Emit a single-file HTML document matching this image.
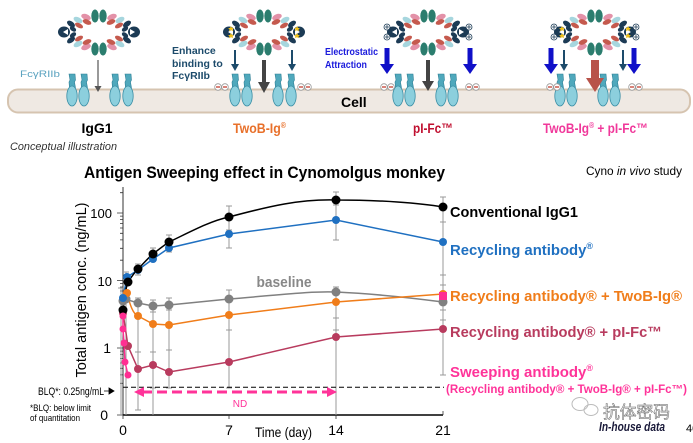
<!DOCTYPE html>
<html><head><meta charset="utf-8"><style>
html,body{margin:0;padding:0;background:#fff;}
svg{display:block;}
text{font-family:"Liberation Sans",Arial,sans-serif;}
</style></head><body>
<svg width="693" height="443" viewBox="0 0 693 443" xmlns="http://www.w3.org/2000/svg">
<defs>
<g id="q">
 <ellipse cx="-13" cy="-15" rx="5" ry="2.8" fill="#e391a8" transform="rotate(22 -13 -15)"/>
 <ellipse cx="-21" cy="-12" rx="4.8" ry="2.7" fill="#a6d6de" transform="rotate(28 -21 -12)"/>
 <ellipse cx="-28" cy="-8" rx="4.5" ry="2.6" fill="#1c3b55" transform="rotate(35 -28 -8)"/>
 <ellipse cx="-12" cy="-10" rx="4.6" ry="2.4" fill="#c55a4e" transform="rotate(22 -12 -10)"/>
 <ellipse cx="-20" cy="-6.5" rx="4.4" ry="2.3" fill="#c55a4e" transform="rotate(28 -20 -6.5)"/>
 <ellipse cx="-26" cy="-3" rx="3.5" ry="2.2" fill="#1c3b55" transform="rotate(35 -26 -3)"/>
</g>
<g id="ab">
 <use href="#q"/>
 <use href="#q" transform="scale(-1,1)"/>
 <use href="#q" transform="scale(1,-1)"/>
 <use href="#q" transform="scale(-1,-1)"/>
 <ellipse cx="-4" cy="-16" rx="3.7" ry="6.5" fill="#2b7d6e"/>
 <ellipse cx="4" cy="-16" rx="3.7" ry="6.5" fill="#2b7d6e"/>
 <ellipse cx="-4" cy="17" rx="3.7" ry="6.5" fill="#2b7d6e"/>
 <ellipse cx="4" cy="17" rx="3.7" ry="6.5" fill="#2b7d6e"/>
 <ellipse cx="-35" cy="0" rx="6" ry="5.5" fill="#1c3b55"/>
 <path d="M-36,0 L-31,-3 L-31,3 Z" fill="#fff"/>
 <ellipse cx="35" cy="0" rx="6" ry="5.5" fill="#1c3b55"/>
 <path d="M36,0 L31,-3 L31,3 Z" fill="#fff"/>
</g>
<g id="stars">
 <path d="M-33,-6 l1,2 2,0 -1.5,1.3 .6,2 -2.1,-1.2 -2.1,1.2 .6,-2 -1.5,-1.3 2,0z" fill="#f2c21b"/>
 <path d="M-33,1 l1,2 2,0 -1.5,1.3 .6,2 -2.1,-1.2 -2.1,1.2 .6,-2 -1.5,-1.3 2,0z" fill="#f2c21b"/>
 <path d="M33,-6 l1,2 2,0 -1.5,1.3 .6,2 -2.1,-1.2 -2.1,1.2 .6,-2 -1.5,-1.3 2,0z" fill="#f2c21b"/>
 <path d="M33,1 l1,2 2,0 -1.5,1.3 .6,2 -2.1,-1.2 -2.1,1.2 .6,-2 -1.5,-1.3 2,0z" fill="#f2c21b"/>
</g>
<g id="plus">
 <circle cx="-41" cy="-5" r="3" fill="#fff" stroke="#1c3b55" stroke-width="0.8"/>
 <circle cx="-41" cy="5" r="3" fill="#fff" stroke="#1c3b55" stroke-width="0.8"/>
 <circle cx="41" cy="-5" r="3" fill="#fff" stroke="#1c3b55" stroke-width="0.8"/>
 <circle cx="41" cy="5" r="3" fill="#fff" stroke="#1c3b55" stroke-width="0.8"/>
 <path d="M-43,-5h4M-41,-7v4M-43,5h4M-41,3v4M39,-5h4M41,-7v4M39,5h4M41,3v4" stroke="#1c3b55" stroke-width="0.8"/>
</g>
<g id="rec">
 <path d="M-3,74 L3,74 L3.5,80 L2.5,82 L3.5,88 L-2.5,88 L-3,82 L-2,80 Z" fill="#4fa8bc" stroke="#2f7f95" stroke-width="0.6"/>
 <ellipse cx="0" cy="96" rx="5.2" ry="10" fill="#8ccfdd" stroke="#3a8ea5" stroke-width="0.8"/>
</g>
<g id="minus">
 <circle cx="0" cy="0" r="3.3" fill="#fff" stroke="#999" stroke-width="0.8"/>
 <circle cx="7" cy="0" r="3.3" fill="#fff" stroke="#999" stroke-width="0.8"/>
 <path d="M-2,0h4M5,0h4" stroke="#c0392b" stroke-width="1.2"/>
</g>
</defs>

<!-- membrane -->
<rect x="8" y="89.5" width="682" height="23" rx="10" fill="#efe9e3" stroke="#d6c4b0" stroke-width="2"/>
<text x="341" y="107" font-size="14" font-weight="bold" fill="#000">Cell</text>

<!-- receptors -->
<use href="#rec" x="72"/><use href="#rec" x="84"/><use href="#rec" x="115"/><use href="#rec" x="128"/>
<use href="#rec" x="235"/><use href="#rec" x="247"/><use href="#rec" x="278"/><use href="#rec" x="291"/>
<use href="#rec" x="398"/><use href="#rec" x="410"/><use href="#rec" x="441"/><use href="#rec" x="453"/>
<use href="#rec" x="560"/><use href="#rec" x="572"/><use href="#rec" x="603"/><use href="#rec" x="615"/>

<!-- minus charges -->
<use href="#minus" x="218" y="87"/><use href="#minus" x="301" y="87"/>
<use href="#minus" x="384" y="87"/><use href="#minus" x="469" y="87"/>
<use href="#minus" x="550" y="87"/><use href="#minus" x="632" y="87"/>

<!-- antibodies -->
<use href="#ab" x="99" y="32"/>
<use href="#ab" x="264" y="32"/><use href="#stars" x="264" y="32"/>
<use href="#ab" x="428" y="32"/><use href="#plus" x="428" y="32"/>
<use href="#ab" x="595" y="32"/><use href="#stars" x="595" y="32"/><use href="#plus" x="595" y="32"/>

<!-- arrows -->
<line x1="98" y1="60" x2="98" y2="86" stroke="#555" stroke-width="1.2"/>
<path d="M94.5,86 L101.5,86 L98,92 Z" fill="#555"/>

<rect x="262" y="60" width="4" height="22" fill="#444"/>
<path d="M258,82 L270,82 L264,93 Z" fill="#444"/>
<line x1="235" y1="50" x2="235" y2="64" stroke="#1d4b6b" stroke-width="2"/>
<path d="M231,64 L239,64 L235,71 Z" fill="#1d4b6b"/>
<line x1="292" y1="50" x2="292" y2="64" stroke="#1d4b6b" stroke-width="2"/>
<path d="M288,64 L296,64 L292,71 Z" fill="#1d4b6b"/>

<rect x="426" y="60" width="4" height="21" fill="#444"/>
<path d="M422,81 L434,81 L428,91 Z" fill="#444"/>
<rect x="384.5" y="48" width="5" height="16" fill="#1010c8"/>
<path d="M380,64 L394,64 L387,74 Z" fill="#1010c8"/>
<rect x="467.5" y="48" width="5" height="16" fill="#1010c8"/>
<path d="M463,64 L477,64 L470,74 Z" fill="#1010c8"/>

<rect x="548.5" y="48" width="5" height="16" fill="#1010c8"/>
<path d="M544,64 L558,64 L551,74 Z" fill="#1010c8"/>
<rect x="631.5" y="48" width="5" height="16" fill="#1010c8"/>
<path d="M627,64 L641,64 L634,74 Z" fill="#1010c8"/>
<line x1="564" y1="50" x2="564" y2="64" stroke="#1d4b6b" stroke-width="2"/>
<path d="M560,64 L568,64 L564,71 Z" fill="#1d4b6b"/>
<line x1="623" y1="50" x2="623" y2="64" stroke="#1d4b6b" stroke-width="2"/>
<path d="M619,64 L627,64 L623,71 Z" fill="#1d4b6b"/>
<rect x="591" y="60" width="8" height="18" fill="#b8534a"/>
<path d="M586,78 L604,78 L595,92 Z" fill="#b8534a"/>

<!-- top texts -->
<text x="20" y="77" font-size="9" fill="#5ba3c0" textLength="40" lengthAdjust="spacingAndGlyphs">FcγRIIb</text>
<text x="172" y="54" font-size="10.5" font-weight="bold" fill="#1d4b6b">Enhance</text>
<text x="172" y="67" font-size="10.5" font-weight="bold" fill="#1d4b6b">binding to</text>
<text x="172" y="79" font-size="10.5" font-weight="bold" fill="#1d4b6b">FcγRIIb</text>
<text x="325" y="55" font-size="10" font-weight="bold" fill="#1a1adc" textLength="53" lengthAdjust="spacingAndGlyphs">Electrostatic</text>
<text x="325" y="68" font-size="10" font-weight="bold" fill="#1a1adc" textLength="42" lengthAdjust="spacingAndGlyphs">Attraction</text>

<text x="97" y="133" font-size="14" font-weight="bold" fill="#000" text-anchor="middle">IgG1</text>
<text x="233" y="133" font-size="14" font-weight="bold" fill="#e8702a" textLength="53" lengthAdjust="spacingAndGlyphs">TwoB-Ig<tspan font-size="8" dy="-5">®</tspan></text>
<text x="413" y="133" font-size="14" font-weight="bold" fill="#c01030" textLength="40" lengthAdjust="spacingAndGlyphs">pI-Fc™</text>
<text x="543" y="133" font-size="14" font-weight="bold" fill="#f0389a" textLength="105" lengthAdjust="spacingAndGlyphs">TwoB-Ig<tspan font-size="8" dy="-5">®</tspan><tspan dy="5"> + pI-Fc™</tspan></text>
<text x="10" y="150" font-size="11" font-style="italic" fill="#333" textLength="107" lengthAdjust="spacingAndGlyphs">Conceptual illustration</text>

<!-- chart title -->
<text x="84" y="178" font-size="17" font-weight="bold" fill="#000" textLength="361" lengthAdjust="spacingAndGlyphs">Antigen Sweeping effect in Cynomolgus monkey</text>
<text x="586" y="175" font-size="12" fill="#000" textLength="96" lengthAdjust="spacingAndGlyphs">Cyno <tspan font-style="italic">in vivo</tspan> study</text>

<!-- axes -->
<line x1="123" y1="187" x2="123" y2="415" stroke="#333" stroke-width="1"/>
<line x1="123" y1="415" x2="443" y2="415" stroke="#000" stroke-width="1.5"/>
<path d="M117,213H123M117,280.5H123M117,348H123M117,415H123
M120,192.7H123M120,216.1H123M120,219.5H123M120,223.5H123M120,228H123M120,233.3H123M120,239.9H123M120,248.3H123M120,260.2H123
M120,283.6H123M120,287H123M120,291H123M120,295.5H123M120,300.8H123M120,307.4H123M120,315.8H123M120,327.7H123
M120,351.1H123M120,354.5H123M120,358.5H123M120,363H123M120,368.3H123M120,374.9H123M120,383.3H123
M123,415V419M229,415V419M336,415V419M443,415V411" stroke="#333" stroke-width="0.8" fill="none"/>

<text x="112" y="218" font-size="13" text-anchor="end">100</text>
<text x="112" y="286" font-size="13" text-anchor="end">10</text>
<text x="111" y="353" font-size="14" text-anchor="end">1</text>
<text x="108" y="420" font-size="14" text-anchor="end">0</text>
<text x="123" y="435" font-size="14" text-anchor="middle">0</text>
<text x="229" y="435" font-size="14" text-anchor="middle">7</text>
<text x="336" y="435" font-size="14" text-anchor="middle">14</text>
<text x="443" y="435" font-size="14" text-anchor="middle">21</text>
<text x="255" y="437" font-size="14" textLength="57" lengthAdjust="spacingAndGlyphs">Time (day)</text>
<text transform="translate(86,290) rotate(-90)" font-size="15" text-anchor="middle" textLength="175" lengthAdjust="spacingAndGlyphs">Total antigen conc. (ng/mL)</text>

<!-- error bars -->
<g stroke="#999" stroke-width="1" fill="none">
 <path d="M121,288V415M126,272V415M118,288h6M123,272h6"/>
 <path d="M138,264V275M135,264h6M135,275h6"/>
 <path d="M138,298V410M135,298h6M135,352h6M135,410h6"/>
 <path d="M153,248V260M150,248h6M150,260h6"/>
 <path d="M153,300V415M150,300h6M150,312h6M150,352h6M150,388h6"/>
 <path d="M169,235V252M166,235h6M166,252h6"/>
 <path d="M169,298V388M166,298h6M166,310h6M166,350h6M166,388h6"/>
 <path d="M229,206V248M226,206h6M226,230h6M226,248h6"/>
 <path d="M229,290V388M226,290h6M226,330h6M226,388h6"/>
 <path d="M336,192V240M333,192h6M333,205h6M333,240h6"/>
 <path d="M336,287V415M333,287h6M333,318h6M333,330h6"/>
 <path d="M443,197V375M440,197h6M440,222h6M440,275h6M440,285h6M440,310h6M440,320h6M440,375h6"/>
</g>

<!-- BLQ line -->
<line x1="123" y1="387.3" x2="444" y2="387.3" stroke="#000" stroke-width="1" stroke-dasharray="5,3"/>
<text x="38" y="395" font-size="11" fill="#000" textLength="66" lengthAdjust="spacingAndGlyphs">BLQ*: 0.25ng/mL</text>
<path d="M104,391H110M109,388L114,391L109,394Z" stroke="#000" stroke-width="0.8" fill="#000"/>
<text x="30" y="411" font-size="9.5" fill="#000" textLength="61" lengthAdjust="spacingAndGlyphs">*BLQ: below limit</text>
<text x="30" y="421" font-size="9.5" fill="#000" textLength="50" lengthAdjust="spacingAndGlyphs">of quantitation</text>

<!-- ND arrow -->
<line x1="142" y1="392" x2="329" y2="392" stroke="#ff3399" stroke-width="3" stroke-dasharray="10,5"/>
<path d="M134,392 L144,387 L144,397 Z" fill="#ff3399"/>
<path d="M337,392 L327,387 L327,397 Z" fill="#ff3399"/>
<text x="240" y="407" font-size="10" fill="#ff3399" text-anchor="middle">ND</text>

<!-- series lines -->
<g fill="none" stroke-width="1.5">
 <path d="M123,300 L125,299 L138,303 L153,306 L169,305 L229,299 C280,295 310,291 336,292 C380,294 420,299 443,302" stroke="#808080"/>
 <path d="M123,300 L127,293 C130,305 133,314 138,316 L153,324 L169,325 L229,315 L336,302 L443,294" stroke="#f07d1a"/>
 <path d="M123,313 L128,346 L138,369 L153,365 L169,372 L229,362 L336,337 L443,329" stroke="#b83b5e"/>
 <path d="M123,298 L127,277 L138,270 L153,259 L169,248 L229,234 L336,220 L443,242" stroke="#1f70c1"/>
 <path d="M123,310 C125,295 126,286 128,282 C132,276 135,272 138,269 C144,263 148,258 153,254 C158,250 163,246 169,242 C190,232 210,221 229,217 C270,206 300,199 336,200 C380,200 420,203 443,207" stroke="#000"/>
 <path d="M123,316 L123,329 L124,343 L125,362 L128,375" stroke="#ff2f92"/>
</g>
<!-- markers -->
<g fill="#808080">
 <circle cx="123" cy="301" r="4.5"/><circle cx="126" cy="299" r="4.5"/><circle cx="138" cy="303" r="4.5"/><circle cx="153" cy="306" r="4.5"/><circle cx="169" cy="305" r="4.5"/><circle cx="229" cy="299" r="4.5"/><circle cx="336" cy="292" r="4.5"/><circle cx="443" cy="302" r="4.5"/>
</g>
<g fill="#f07d1a">
 <circle cx="127" cy="293" r="4"/><circle cx="138" cy="316" r="4"/><circle cx="153" cy="324" r="4"/><circle cx="169" cy="325" r="4"/><circle cx="229" cy="315" r="4"/><circle cx="336" cy="302" r="4"/><circle cx="443" cy="294" r="4"/>
</g>
<g fill="#b83b5e">
 <circle cx="123" cy="313" r="4"/><circle cx="128" cy="346" r="4"/><circle cx="138" cy="369" r="4"/><circle cx="153" cy="365" r="4"/><circle cx="169" cy="372" r="4"/><circle cx="229" cy="362" r="4"/><circle cx="336" cy="337" r="4"/><circle cx="443" cy="329" r="4"/>
</g>
<g fill="#1f70c1">
 <circle cx="123" cy="298" r="4"/><circle cx="127" cy="277" r="4"/><circle cx="138" cy="270" r="4"/><circle cx="153" cy="259" r="4"/><circle cx="169" cy="248" r="4"/><circle cx="229" cy="234" r="4"/><circle cx="336" cy="220" r="4"/><circle cx="443" cy="242" r="4"/>
</g>
<g fill="#000">
 <circle cx="123" cy="310" r="4.5"/><circle cx="128" cy="282" r="4.5"/><circle cx="138" cy="269" r="4.5"/><circle cx="153" cy="254" r="4.5"/><circle cx="169" cy="242" r="4.5"/><circle cx="229" cy="217" r="4.5"/><circle cx="336" cy="200" r="4.5"/><circle cx="443" cy="207" r="4.5"/>
</g>
<g fill="#ff2f92">
 <circle cx="123" cy="316" r="3.5"/><circle cx="123" cy="329" r="3.5"/><circle cx="124" cy="343" r="3.5"/><circle cx="125" cy="362" r="3.5"/><circle cx="128" cy="375" r="3.5"/>
 <rect x="439" y="292" width="8" height="8"/>
</g>

<text x="284" y="287" font-size="15" font-weight="bold" fill="#888" text-anchor="middle" textLength="55" lengthAdjust="spacingAndGlyphs">baseline</text>

<!-- legend -->
<text x="450" y="217" font-size="15" font-weight="bold" fill="#000" textLength="128" lengthAdjust="spacingAndGlyphs">Conventional IgG1</text>
<text x="450" y="255" font-size="15" font-weight="bold" fill="#1f70c1" textLength="143" lengthAdjust="spacingAndGlyphs">Recycling antibody<tspan font-size="9" dy="-6">®</tspan></text>
<text x="450" y="301" font-size="15" font-weight="bold" fill="#f07d1a" textLength="232" lengthAdjust="spacingAndGlyphs">Recycling antibody® + TwoB-Ig®</text>
<text x="450" y="337" font-size="15" font-weight="bold" fill="#b83b5e" textLength="212" lengthAdjust="spacingAndGlyphs">Recycling antibody® + pI-Fc™</text>
<text x="450" y="377" font-size="15" font-weight="bold" fill="#ff3399" textLength="143" lengthAdjust="spacingAndGlyphs">Sweeping antibody<tspan font-size="9" dy="-6">®</tspan></text>
<text x="446" y="393" font-size="11.5" font-weight="bold" fill="#ff3399" textLength="241" lengthAdjust="spacingAndGlyphs">(Recycling antibody® + TwoB-Ig® + pI-Fc™)</text>

<!-- watermark -->
<g fill="none" stroke="#bbb" stroke-width="1">
 <ellipse cx="580" cy="404" rx="8" ry="6.5"/>
 <ellipse cx="591" cy="410" rx="7" ry="5.5"/>
</g>
<text x="603" y="418" font-size="17" fill="#eee" stroke="#666" stroke-width="0.5" font-family="'Noto Sans CJK SC',sans-serif" textLength="67" lengthAdjust="spacingAndGlyphs">抗体密码</text>
<text x="599" y="431" font-size="12.5" font-weight="bold" font-style="italic" fill="#1a1a3a" font-family="'Liberation Serif',serif" textLength="66" lengthAdjust="spacingAndGlyphs">In-house data</text>
<text x="686" y="432" font-size="11" fill="#000">40</text>
</svg>
</body></html>
